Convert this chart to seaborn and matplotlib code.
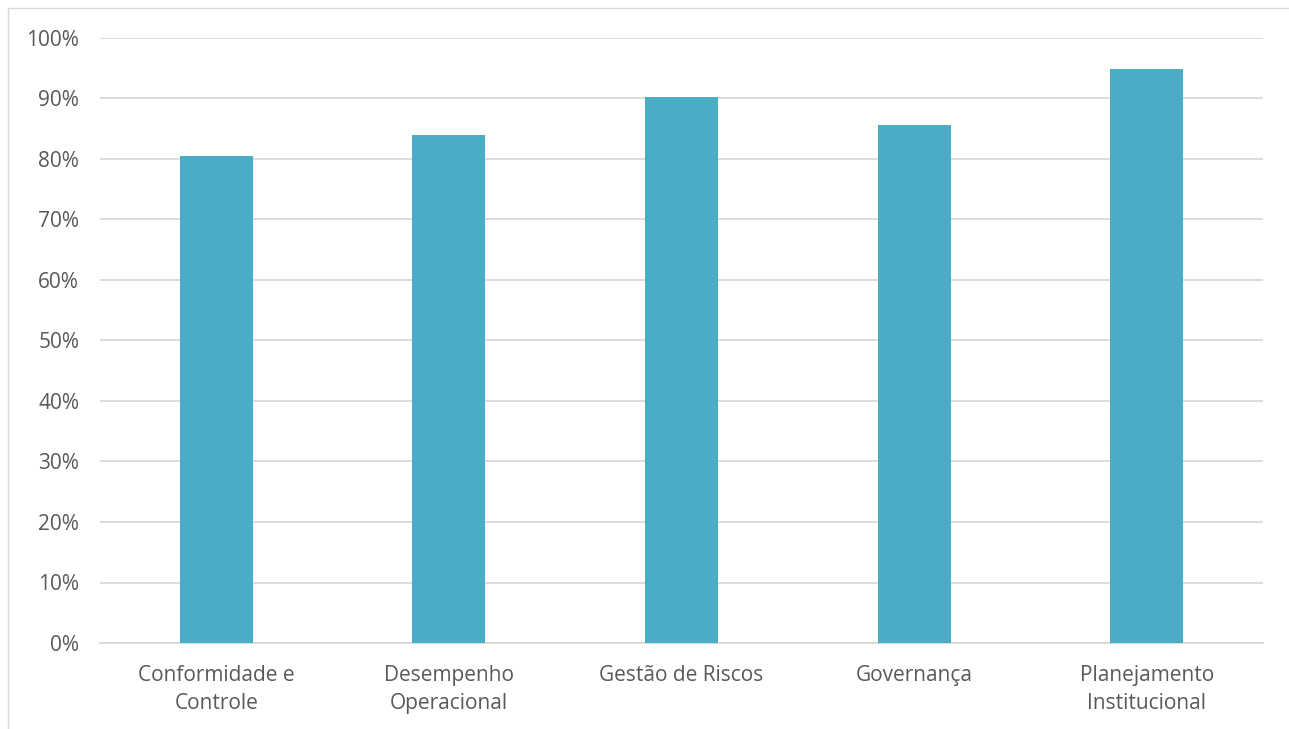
import matplotlib
matplotlib.use("Agg")
import matplotlib.pyplot as plt
import seaborn as sns
import pandas as pd
from matplotlib.patches import Rectangle
from matplotlib.ticker import PercentFormatter

categories = ["Conformidade e\nControle", "Desempenho\nOperacional", "Gestão de Riscos",
              "Governança", "Planejamento\nInstitucional"]
values = [80.5, 84.0, 90.2, 85.6, 94.9]
yticks = [0, 10, 20, 30, 40, 50, 60, 70, 80, 90, 100]

sns.set_theme(style="white")
plt.rcParams['font.family'] = ['Open Sans', 'DejaVu Sans']

df = pd.DataFrame({"cat": categories, "val": values})

fig = plt.figure(figsize=(12.89, 7.29), dpi=100)
ax = fig.add_axes([100/1289, 1 - 643/729, 1163/1289, (643-38)/729])

sns.barplot(data=df, x="cat", y="val", color="#4BACC6", width=0.314, ax=ax,
            saturation=1, zorder=3, linewidth=0)
ax.set_ylim(0, 100)
ax.set_xlim(-0.5, 4.5)
ax.set_yticks(yticks)
ax.yaxis.set_major_formatter(PercentFormatter(decimals=0))
ax.grid(axis="y", color="#D9D9D9", linewidth=1.3, zorder=0)
ax.set_axisbelow(True)
for s in ["top", "right", "left"]:
    ax.spines[s].set_visible(False)
ax.spines["bottom"].set_color("#D9D9D9")
ax.spines["bottom"].set_linewidth(1.3)
ax.set_xlabel("")
ax.set_ylabel("")
ax.tick_params(axis="both", length=0, labelsize=15, labelcolor="#595959")
ax.tick_params(axis="y", pad=15)
ax.tick_params(axis="x", pad=16)
for lbl in ax.get_xticklabels():
    lbl.set_linespacing(1.45)

fig.patches.append(Rectangle((8/1289, -0.05), 1.1, 1 - 8/729 + 0.05,
                             transform=fig.transFigure, fill=False,
                             edgecolor="#D9D9D9", linewidth=1))
fig.savefig("out.png", dpi=100)
